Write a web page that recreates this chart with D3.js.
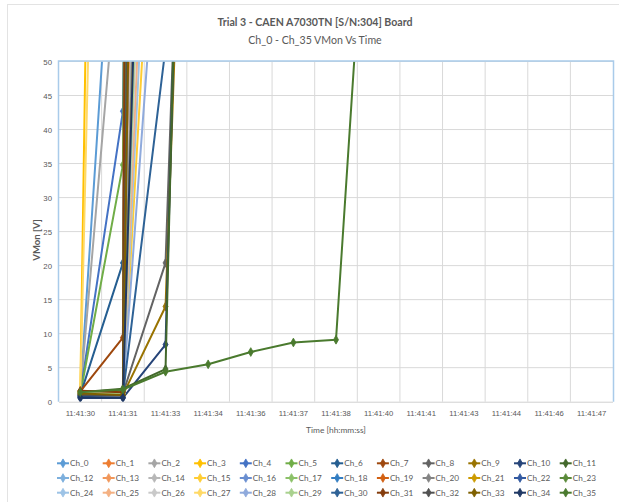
<!DOCTYPE html>
<html>
<head>
<meta charset="utf-8">
<script src="https://cdn.jsdelivr.net/npm/d3@7"></script>
<style>
  html, body { margin: 0; padding: 0; background: #fff; }
  svg { display: block; font-family: Lato, "Open Sans", sans-serif; }
</style>
</head>
<body>
<svg id="chart" width="619" height="502"></svg>
<script>
// Sample times (category axis)
const times = ["11:41:30","11:41:31","11:41:33","11:41:34","11:41:36","11:41:37","11:41:38",
               "11:41:40","11:41:41","11:41:43","11:41:44","11:41:46","11:41:47"];

// VMon readings [V] per channel, one value per sample time
const ch_0  = [1.3, 97, 250, 420, 600, 780, 950, 1100, 1200, 1250, 1260, 1265, 1265];
const ch_1  = [1.2, 1.3, 1000, 1200, 1255, 1265, 1265, 1265, 1265, 1265, 1265, 1265, 1265];
const ch_2  = [1.3, 74, 230, 400, 580, 760, 930, 1080, 1190, 1245, 1260, 1265, 1265];
const ch_3  = [1.5, 415, 800, 1100, 1230, 1260, 1265, 1265, 1265, 1265, 1265, 1265, 1265];
const ch_4  = [1.2, 42.7, 560, 900, 1150, 1240, 1260, 1265, 1265, 1265, 1265, 1265, 1265];
const ch_5  = [1.1, 34.8, 900, 1150, 1240, 1260, 1265, 1265, 1265, 1265, 1265, 1265, 1265];
const ch_6  = [1.0, 20.4, 620, 980, 1160, 1240, 1260, 1265, 1265, 1265, 1265, 1265, 1265];
const ch_7  = [1.5, 9.4, 1500, 1500, 1500, 1500, 1500, 1500, 1500, 1500, 1500, 1500, 1500];
const ch_8  = [1.0, 1.2, 20.4, 200, 420, 640, 850, 1020, 1150, 1230, 1260, 1265, 1265];
const ch_9  = [0.9, 1.0, 14.0, 190, 400, 620, 830, 1000, 1140, 1225, 1258, 1265, 1265];
const ch_10 = [0.55, 0.55, 8.4, 240, 470, 690, 880, 1040, 1160, 1235, 1260, 1265, 1265];
const ch_11 = [1.4, 1.9, 4.8, 260, 490, 710, 900, 1060, 1170, 1240, 1262, 1265, 1265];
const ch_12 = [1.2, 1.1, 990, 1200, 1255, 1265, 1265, 1265, 1265, 1265, 1265, 1265, 1265];
const ch_13 = [1.2, 1.2, 342, 680, 950, 1150, 1240, 1260, 1265, 1265, 1265, 1265, 1265];
const ch_14 = [1.1, 1.2, 258, 520, 780, 1000, 1170, 1245, 1262, 1265, 1265, 1265, 1265];
const ch_15 = [1.3, 1.2, 110, 300, 520, 740, 940, 1100, 1200, 1250, 1262, 1265, 1265];
const ch_16 = [1.0, 1.2, 508, 880, 1120, 1230, 1260, 1265, 1265, 1265, 1265, 1265, 1265];
const ch_17 = [1.4, 1.2, 1300, 1300, 1300, 1300, 1300, 1300, 1300, 1300, 1300, 1300, 1300];
const ch_18 = [1.1, 1.2, 408, 760, 1020, 1190, 1250, 1263, 1265, 1265, 1265, 1265, 1265];
const ch_19 = [1.3, 1.2, 800, 1100, 1230, 1260, 1265, 1265, 1265, 1265, 1265, 1265, 1265];
const ch_20 = [0.9, 1.2, 229, 480, 740, 960, 1140, 1235, 1260, 1265, 1265, 1265, 1265];
const ch_21 = [1.0, 1.2, 207, 450, 700, 930, 1120, 1230, 1260, 1265, 1265, 1265, 1265];
const ch_22 = [0.8, 1.3, 672, 980, 1160, 1240, 1260, 1265, 1265, 1265, 1265, 1265, 1265];
const ch_23 = [1.5, 1.6, 1100, 1250, 1262, 1265, 1265, 1265, 1265, 1265, 1265, 1265, 1265];
const ch_24 = [1.2, 1.2, 130, 330, 560, 780, 980, 1130, 1220, 1255, 1264, 1265, 1265];
const ch_25 = [1.4, 1.2, 148, 360, 590, 810, 1000, 1150, 1230, 1258, 1265, 1265, 1265];
const ch_26 = [1.1, 1.2, 173, 400, 640, 870, 1060, 1190, 1250, 1263, 1265, 1265, 1265];
const ch_27 = [1.4, 270, 600, 900, 1130, 1235, 1260, 1265, 1265, 1265, 1265, 1265, 1265];
const ch_28 = [0.9, 1.2, 87, 260, 470, 690, 890, 1060, 1180, 1245, 1262, 1265, 1265];
const ch_29 = [1.3, 1.2, 188, 420, 670, 900, 1090, 1210, 1255, 1264, 1265, 1265, 1265];
const ch_30 = [0.8, 1.0, 52, 300, 540, 760, 950, 1100, 1200, 1250, 1262, 1265, 1265];
const ch_31 = [1.6, 1.4, 1400, 1400, 1400, 1400, 1400, 1400, 1400, 1400, 1400, 1400, 1400];
const ch_32 = [1.0, 0.9, 508, 880, 1120, 1230, 1260, 1265, 1265, 1265, 1265, 1265, 1265];
const ch_33 = [1.2, 1.0, 408, 760, 1020, 1190, 1250, 1263, 1265, 1265, 1265, 1265, 1265];
const ch_34 = [0.6, 0.6, 209, 460, 720, 950, 1130, 1230, 1260, 1265, 1265, 1265, 1265];
const ch_35 = [1.4, 1.8, 4.4, 5.5, 7.3, 8.7, 9.1, 105, 260, 420, 580, 720, 850];

const channelNames = d3.range(36).map(i => "Ch_" + i);
const channelValues = [ch_0, ch_1, ch_2, ch_3, ch_4, ch_5, ch_6, ch_7, ch_8, ch_9, ch_10, ch_11,
  ch_12, ch_13, ch_14, ch_15, ch_16, ch_17, ch_18, ch_19, ch_20, ch_21, ch_22, ch_23,
  ch_24, ch_25, ch_26, ch_27, ch_28, ch_29, ch_30, ch_31, ch_32, ch_33, ch_34, ch_35];

// Office series palette (accents, then shades/tints)
const channelColors = [
  "#5B9BD5","#ED7D31","#A5A5A5","#FFC000","#4472C4","#70AD47",
  "#255E91","#9E480E","#636363","#997300","#264478","#43682B",
  "#7CAFDD","#F1975A","#B7B7B7","#FFCD33","#698ED0","#8CC168",
  "#327DC2","#D26012","#848484","#CC9A00","#335AA1","#5A8A39",
  "#9DC3E6","#F4B183","#C9C9C9","#FFD966","#8FAADC","#A9D18E",
  "#2E6296","#843C0C","#525252","#7F6000","#203864","#4A7A2E"];

const yTicks = [0, 5, 10, 15, 20, 25, 30, 35, 40, 45, 50];

const titleText = "Trial 3 - CAEN A7030TN [S/N:304] Board";
const subtitleText = "Ch_0 - Ch_35 VMon Vs Time";
const xTitle = "Time [hh:mm:ss]";
const yTitle = "VMon [V]";

// ---- layout ----
const plot = { left: 59, right: 613, top: 61.5, bottom: 401.7 };
const textColor = "#595959";
const gridColor = "#D9D9D9";

const svg = d3.select("#chart");

// Chart area frame
svg.append("rect")
  .attr("x", 7.5).attr("y", 4.5).attr("width", 640).attr("height", 520)
  .attr("fill", "none").attr("stroke", "#E3E3E3");

const x = d3.scaleBand().domain(times).range([plot.left, plot.right]);
const xc = t => x(t) + x.bandwidth() / 2;
const y = d3.scaleLinear().domain([0, 50]).range([plot.bottom, plot.top]);

// Horizontal gridlines
svg.append("g").selectAll("line").data(yTicks.slice(1)).join("line")
  .attr("x1", plot.left).attr("x2", plot.right)
  .attr("y1", d => y(d)).attr("y2", d => y(d))
  .attr("stroke", gridColor).attr("stroke-width", 1);

// Vertical gridlines at category boundaries
svg.append("g").selectAll("line").data(times.slice(1)).join("line")
  .attr("x1", d => x(d)).attr("x2", d => x(d))
  .attr("y1", plot.top).attr("y2", plot.bottom)
  .attr("stroke", gridColor).attr("stroke-width", 1);

// Y axis labels
const yAxis = d3.axisLeft(y).tickValues(yTicks).tickSize(0).tickPadding(7);
svg.append("g").attr("transform", `translate(${plot.left},0)`).call(yAxis)
  .call(g => g.select(".domain").remove())
  .call(g => g.selectAll("text").attr("fill", textColor).attr("font-size", 7.8)
    .attr("font-family", null));

// X axis labels
const xAxis = d3.axisBottom(x).tickSize(0).tickPadding(9);
svg.append("g").attr("transform", `translate(0,${plot.bottom})`).call(xAxis)
  .call(g => g.select(".domain").remove())
  .call(g => g.selectAll("text").attr("fill", textColor).attr("font-size", 7.7)
    .attr("font-family", null));

// Series lines and markers, clipped to the plot area
svg.append("clipPath").attr("id", "plotClip").append("rect")
  .attr("x", plot.left).attr("y", plot.top)
  .attr("width", plot.right - plot.left).attr("height", plot.bottom - plot.top);

const line = d3.line().x((d, i) => xc(times[i])).y(d => y(d));
const seriesG = svg.append("g").attr("clip-path", "url(#plotClip)");
channelValues.forEach((vals, k) => {
  const g = seriesG.append("g");
  g.append("path").datum(vals).attr("d", line)
    .attr("fill", "none").attr("stroke", channelColors[k])
    .attr("stroke-width", 2).attr("stroke-linejoin", "round");
  g.selectAll("path.m").data(vals).join("path").attr("class", "m")
    .attr("d", d3.symbol(d3.symbolDiamond, 22))
    .attr("transform", (d, i) => `translate(${xc(times[i])},${y(d)})`)
    .attr("fill", channelColors[k]).attr("stroke", channelColors[k]).attr("stroke-width", 0.8);
});

// Plot area border: blue frame, grey category axis line along the bottom
svg.append("path")
  .attr("d", `M${plot.left - 0.5},${plot.bottom}V${plot.top - 0.5}H${plot.right + 0.5}V${plot.bottom}`)
  .attr("fill", "none").attr("stroke", "#A9CBEA").attr("stroke-width", 1.5);
svg.append("line")
  .attr("x1", plot.left).attr("x2", plot.right)
  .attr("y1", plot.bottom + 0.5).attr("y2", plot.bottom + 0.5)
  .attr("stroke", "#D0D0D0").attr("stroke-width", 1);

// Titles
svg.append("text").attr("x", 315).attr("y", 26).attr("text-anchor", "middle")
  .attr("font-size", 10.6).attr("font-weight", "bold").attr("fill", textColor).text(titleText);
svg.append("text").attr("x", 315).attr("y", 44).attr("text-anchor", "middle")
  .attr("font-size", 10.6).attr("fill", textColor).text(subtitleText);

svg.append("text").attr("x", (plot.left + plot.right) / 2).attr("y", 433)
  .attr("text-anchor", "middle").attr("font-size", 8.4).attr("fill", textColor).text(xTitle);
svg.append("text").attr("transform", "translate(40,240) rotate(-90)")
  .attr("text-anchor", "middle").attr("font-size", 9.5).attr("font-weight", "bold")
  .attr("fill", textColor).text(yTitle);

// Legend: 12 columns x 3 rows
const legend = svg.append("g");
channelNames.forEach((name, k) => {
  const col = k % 12, row = Math.floor(k / 12);
  const lx = 57 + col * 45.7, ly = 463.3 + row * 14.7;
  const g = legend.append("g").attr("transform", `translate(${lx},${ly})`);
  g.append("line").attr("x1", 0).attr("x2", 12).attr("y1", 0).attr("y2", 0)
    .attr("stroke", channelColors[k]).attr("stroke-width", 2);
  g.append("path").attr("d", d3.symbol(d3.symbolDiamond, 22)).attr("transform", "translate(6,0)")
    .attr("fill", channelColors[k]).attr("stroke", channelColors[k]).attr("stroke-width", 0.8);
  g.append("text").attr("x", 13).attr("y", 0).attr("dy", "0.35em")
    .attr("font-size", 8.2).attr("fill", textColor).text(name);
});
</script>
</body>
</html>
